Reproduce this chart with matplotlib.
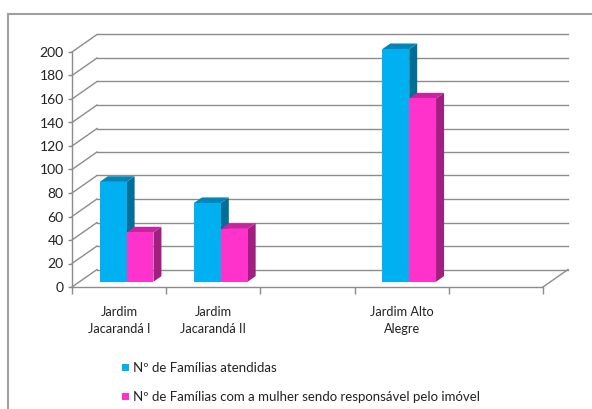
import matplotlib
matplotlib.use('Agg')
import matplotlib.pyplot as plt
from matplotlib.patches import Polygon, Rectangle
from matplotlib.lines import Line2D
from matplotlib.transforms import IdentityTransform
import numpy as np

# Data
categories = ['Jardim\nJacarandá I', 'Jardim\nJacarandá II', '', 'Jardim Alto\nAlegre', '']
familias = [85, 67, np.nan, 198, np.nan]
mulher = [42, 45, np.nan, 156, np.nan]
series_labels = ['Nº de Famílias atendidas',
                 'Nº de Famílias com a mulher sendo responsável pelo imóvel']
yticks = list(range(0, 201, 20))

plt.rcParams['font.family'] = ['Lato', 'DejaVu Sans']

W, H = 592, 409
fig = plt.figure(figsize=(W / 100, H / 100), dpi=100)
fig.patch.set_facecolor('white')
ax = fig.add_axes([72 / W, 122 / H, 471 / W, 235 / H])
ax.set_xlim(0, len(categories))
ax.set_ylim(0, 200)
ax.patch.set_visible(False)

grid_c = '#8c8c8c'
for side in ['top', 'right']:
    ax.spines[side].set_visible(False)
for side in ['left', 'bottom']:
    ax.spines[side].set_color(grid_c)
    ax.spines[side].set_linewidth(1)

ax.set_yticks(yticks)
ax.tick_params(axis='y', length=3, width=1, color=grid_c, labelsize=10, pad=3,
               labelcolor='#222222')
ax.set_xticks(range(len(categories) + 1))
ax.set_xticklabels([])
ax.tick_params(axis='x', which='major', length=5, width=1, color=grid_c)
ax.set_xticks(np.arange(len(categories)) + 0.5, minor=True)
ax.set_xticklabels(categories, minor=True)
ax.tick_params(axis='x', which='minor', length=0, pad=14, labelsize=9.2,
               labelcolor='#222222')
for t in ax.get_xticklabels(minor=True):
    t.set_linespacing(1.5)

# 3D look: depth offset of the back wall in pixels
DX, DY = 25, 17.5
F0, F1 = 0.3, 0.62
ident = IdentityTransform()


def proj(x, y, f):
    px, py = ax.transData.transform((x, y))
    return px + f * DX, py + f * DY


def seg(p, q):
    ax.add_line(Line2D([p[0], q[0]], [p[1], q[1]], transform=ident,
                       color=grid_c, lw=1, clip_on=False, zorder=1))


n = len(categories)
# back wall gridlines + left wall diagonals
for v in yticks:
    seg(proj(0, v, 1), proj(n, v, 1))
    seg(proj(0, v, 0), proj(0, v, 1))
# floor right edge
seg(proj(n, 0, 0), proj(n, 0, 1))

width = 0.285
series = [
    (familias, -width / 2, ('#00B0F0', '#0085B8', '#006E96')),
    (mulher, width / 2, ('#FF33CC', '#C8249F', '#A01F80')),
]


def face(pts, color):
    ax.add_patch(Polygon(pts, closed=True, transform=ident, facecolor=color,
                         edgecolor='none', clip_on=False, zorder=3))


for i in range(n):
    for vals, off, (front, top, sidec) in series:
        v = vals[i]
        if np.isnan(v):
            continue
        x0 = i + 0.5 + off - width / 2
        x1 = x0 + width
        face([proj(x1, 0, F0), proj(x1, 0, F1), proj(x1, v, F1), proj(x1, v, F0)], sidec)
        face([proj(x0, v, F0), proj(x1, v, F0), proj(x1, v, F1), proj(x0, v, F1)], top)
        face([proj(x0, 0, F0), proj(x1, 0, F0), proj(x1, v, F0), proj(x0, v, F0)], front)

# legend
handles = [Rectangle((0, 0), 1, 1, facecolor=c[0]) for _, _, c in series]
fig.legend(handles, series_labels, loc='upper left', bbox_to_anchor=(122 / W, 1 - 362 / H),
           frameon=False, fontsize=9.5, handlelength=0.5, handleheight=0.5,
           handletextpad=0.3, labelspacing=1.3, borderpad=0, borderaxespad=0,
           labelcolor='#222222')

# outer chart frame
fig.add_artist(Line2D([8 / W, 8 / W], [0, 1 - 14 / H], color='#a0a0a0', lw=1.5))
fig.add_artist(Line2D([8 / W, 1], [1 - 14 / H, 1 - 14 / H], color='#a0a0a0', lw=1.5))

fig.savefig('out.png', dpi=100, facecolor='white')
